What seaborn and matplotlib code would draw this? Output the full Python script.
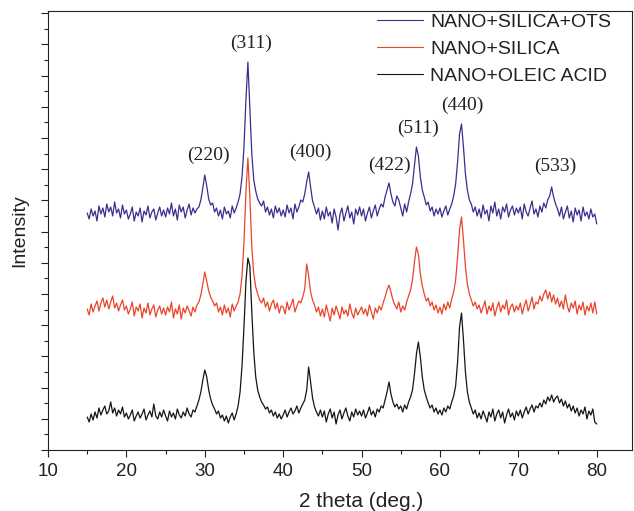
import numpy as np
import pandas as pd
import matplotlib
matplotlib.use("Agg")
import matplotlib.pyplot as plt
import seaborn as sns

# 2 theta grid, 15..80 deg in 0.25 deg steps
two_theta = np.round(np.arange(15, 80.001, 0.25), 2)

# intensities (a.u., already stacked), 20 values per 5 deg
ots = [
    239, 233, 243, 236, 241, 231, 246, 238, 244, 235, 248, 240, 245, 236, 250, 239, 243, 234, 247, 238,
    242, 233, 238, 245, 231, 240, 236, 244, 230, 241, 237, 246, 234, 240, 243, 232, 239, 245, 236, 242,
    235, 244, 238, 249, 236, 243, 232, 247, 240, 245, 234, 242, 248, 237, 244, 239, 243, 245, 252, 264,
    277, 266, 253, 247, 249, 240, 244, 236, 242, 233, 245, 238, 241, 234, 246, 239, 244, 250, 258, 275,
    305, 352, 390, 344, 298, 272, 261, 253, 249, 246, 251, 240, 245, 237, 243, 234, 246, 239, 244, 236,
    242, 235, 247, 239, 244, 233, 248, 240, 245, 252, 250, 258, 270, 280, 265, 251, 245, 238, 244, 232,
    241, 233, 245, 236, 240, 229, 243, 235, 222, 238, 244, 231, 239, 246, 234, 240, 228, 243, 237, 245,
    236, 243, 231, 239, 245, 234, 241, 247, 236, 243, 248, 245, 255, 262, 269, 258, 250, 246, 256, 252,
    244, 236, 248, 240, 250, 258, 268, 286, 305, 296, 275, 262, 255, 247, 250, 241, 245, 236, 243, 238,
    244, 235, 241, 246, 237, 243, 248, 256, 268, 290, 318, 328, 305, 278, 262, 252, 248, 240, 245, 236,
    243, 234, 247, 238, 242, 231, 246, 239, 250, 236, 243, 233, 245, 240, 248, 235, 242, 246, 237, 244,
    239, 245, 233, 248, 240, 236, 244, 251, 238, 243, 235, 246, 240, 249, 244, 252, 256, 265, 255, 248,
    243, 236, 245, 233, 240, 246, 234, 241, 230, 244, 237, 242, 231, 245, 236, 240, 233, 243, 235, 238,
    228,
]
silica = [
    143, 137, 148, 140, 146, 151, 141, 149, 154, 145, 152, 143, 150, 156, 144, 149, 141, 147, 152, 142,
    146, 138, 143, 150, 136, 145, 141, 148, 134, 144, 139, 149, 137, 143, 147, 135, 142, 146, 138, 144,
    137, 145, 140, 150, 134, 143, 138, 147, 133, 144, 139, 146, 141, 136, 145, 140, 147, 150, 157, 168,
    180, 171, 161, 155, 151, 146, 149, 140, 145, 137, 147, 139, 144, 135, 148, 141, 146, 150, 158, 176,
    210, 260, 294, 255, 205, 178, 165, 158, 152, 149, 154, 145, 150, 141, 148, 152, 143, 149, 139, 146,
    145, 138, 150, 142, 147, 153, 140, 146, 151, 149, 155, 163, 188, 176, 160, 152, 147, 140, 145, 136,
    143, 135, 147, 139, 131, 144, 137, 146, 140, 133, 145, 138, 142, 136, 148, 139, 134, 144, 137, 141,
    145, 138, 143, 136, 147, 140, 133, 144, 139, 146, 142, 149, 155, 162, 167, 160, 152, 147, 143, 150,
    140, 146, 142, 150, 156, 162, 172, 190, 205, 198, 178, 166, 158, 151, 154, 146, 150, 142, 147, 139,
    145, 138, 148, 142, 150, 144, 153, 160, 172, 195, 222, 235, 212, 185, 168, 158, 152, 146, 150, 143,
    147, 139, 145, 151, 138, 146, 141, 149, 136, 144, 150, 140, 147, 143, 152, 137, 145, 148, 140, 146,
    142, 149, 138, 146, 152, 141, 147, 155, 143, 150, 148, 156, 151, 158, 162, 153, 160, 150, 157, 148,
    154, 145, 151, 143, 157, 146, 140, 149, 144, 151, 138, 147, 142, 150, 137, 146, 141, 149, 139, 150,
    138,
]
oleic = [
    35, 30, 38, 32, 40, 34, 44, 37, 42, 46, 38, 41, 50, 39, 44, 36, 42, 38, 45, 35,
    39, 33, 37, 42, 31, 36, 40, 34, 38, 43, 32, 37, 41, 35, 48, 36, 33, 40, 35, 42,
    36, 31, 41, 35, 39, 33, 43, 37, 34, 40, 36, 44, 38, 35, 42, 40, 46, 52, 60, 72,
    82, 75, 62, 53, 47, 43, 38, 41, 34, 37, 31, 36, 29, 35, 39, 32, 38, 46, 60, 86,
    125, 170, 194, 186, 140, 100, 75, 62, 55, 50, 47, 43, 45, 39, 42, 36, 40, 34, 38, 33,
    37, 42, 35, 40, 44, 38, 41, 46, 39, 44, 48, 52, 62, 85, 70, 54, 45, 40, 36, 42,
    35, 41, 30, 38, 43, 34, 40, 28, 37, 42, 33, 39, 44, 36, 31, 40, 35, 43, 37, 41,
    36, 42, 34, 39, 45, 37, 41, 35, 43, 40, 46, 44, 52, 60, 70, 58, 50, 45, 48, 43,
    46, 40, 47, 43, 50, 55, 62, 78, 98, 110, 95, 75, 62, 55, 49, 44, 47, 40, 44, 38,
    42, 37, 44, 40, 46, 43, 50, 56, 66, 90, 125, 139, 112, 80, 60, 50, 44, 38, 42, 34,
    39, 33, 41, 36, 30, 40, 35, 43, 31, 38, 42, 34, 40, 29, 37, 43, 35, 39, 32, 41,
    36, 42, 34, 40, 45, 38, 43, 47, 40, 46, 44, 49, 45, 52, 48, 55, 51, 57, 50, 54,
    56, 49, 53, 46, 51, 44, 48, 41, 46, 39, 44, 36, 42, 38, 45, 33, 41, 37, 43, 30,
    28,
]

sample_names = ["NANO+SILICA+OTS", "NANO+SILICA", "NANO+OLEIC ACID"]
sample_colors = ["#3b2e8f", "#e8452c", "#151515"]

# peak labels: text, 2theta, height
hkl_labels = ["(220)", "(311)", "(400)", "(422)", "(511)", "(440)", "(533)"]
hkl_x = [30.5, 35.9, 43.5, 53.6, 57.2, 62.9, 74.7]
hkl_y = [297, 409, 300, 287, 324, 347, 286]

df = pd.concat([
    pd.DataFrame({"two_theta": two_theta, "intensity": vals, "sample": name})
    for name, vals in zip(sample_names, [ots, silica, oleic])
], ignore_index=True)

sns.set_style("ticks")
plt.rcParams["font.family"] = ["Liberation Sans", "DejaVu Sans"]

fig = plt.figure(figsize=(6.34, 5.11), dpi=100)
ax = fig.add_axes([48 / 634, 1 - 450 / 511, 584 / 634, 439 / 511])

sns.lineplot(data=df, x="two_theta", y="intensity", hue="sample",
             hue_order=sample_names, palette=dict(zip(sample_names, sample_colors)),
             estimator=None, sort=False, linewidth=0.9, ax=ax)

for lab, x, y in zip(hkl_labels, hkl_x, hkl_y):
    ax.text(x, y, lab, ha="center", va="center", fontsize=14,
            family=["Liberation Serif", "DejaVu Serif"], color="#222222")

ax.set_xlim(10, 84.5)
ax.set_ylim(2, 441)
ax.set_xticks(np.arange(10, 81, 10))
ax.set_xticks(np.arange(15, 81, 10), minor=True)
ax.set_yticks(np.arange(2, 441, 31.2))
ax.set_yticks(np.arange(17.6, 441, 31.2), minor=True)
ax.set_yticklabels([])
ax.tick_params(which="major", direction="out", length=5, width=0.8, colors="#222222",
               labelsize=13.5, pad=4)
ax.tick_params(which="minor", direction="out", length=3, width=0.8, colors="#222222")
for sp in ax.spines.values():
    sp.set_visible(True)
    sp.set_linewidth(0.8)
    sp.set_color("#222222")

ax.set_xlabel("2 theta (deg.)", fontsize=15, color="#222222", labelpad=9)
ax.xaxis.set_label_coords((50 - 10) / 74.5, -0.095)
ax.xaxis.label.set_va("top")
ax.set_ylabel("Intensity", fontsize=14, color="#222222", labelpad=5)

leg = ax.legend(loc="upper left", bbox_to_anchor=(0.563, 0.995), frameon=False,
                fontsize=14, handlelength=2.4, handletextpad=0.35, labelspacing=0.48,
                borderpad=0, borderaxespad=0)
for h in leg.get_lines():
    h.set_linewidth(0.8)
for t in leg.get_texts():
    t.set_color("#222222")

fig.savefig("out.png", dpi=100)
